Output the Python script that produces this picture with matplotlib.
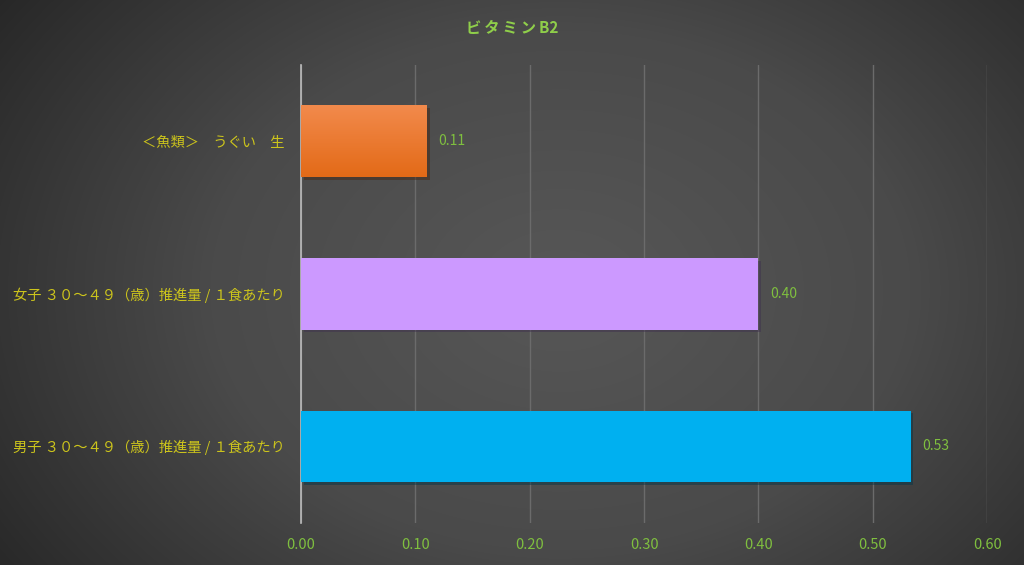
import numpy as np
import matplotlib.pyplot as plt
from matplotlib import patheffects
from matplotlib.colors import LinearSegmentedColormap

plt.rcParams['font.family'] = ['Noto Sans CJK JP', 'DejaVu Sans']

# data, bottom to top
categories = ['男子 ３０～４９（歳）推進量 / １食あたり',
              '女子 ３０～４９（歳）推進量 / １食あたり',
              '＜魚類＞　うぐい　生']
values = [0.533, 0.40, 0.11]
bar_colors = ['#00b0f0', '#cc99ff', '#ed7d31']
xticks = [0.0, 0.1, 0.2, 0.3, 0.4, 0.5, 0.6]
title = '\u2009'.join('ビタミン') + '\u2009B2'

label_yellow = '#ccc41c'
green = '#7fbf3f'

fig = plt.figure(figsize=(10.24, 5.65), dpi=100)

# radial dark background
bg = fig.add_axes([0, 0, 1, 1], zorder=-1)
yy, xx = np.mgrid[0:565, 0:1024]
r = np.sqrt(((xx - 560) / 700.0) ** 2 + ((yy - 290) / 520.0) ** 2)
bg_cmap = LinearSegmentedColormap.from_list('bg', ['#575757', '#4a4a4a', '#262626'])
bg.imshow(r, cmap=bg_cmap, vmin=0, vmax=1.0, aspect='auto', interpolation='bilinear')
bg.axis('off')

ax = fig.add_axes([0.294, 0.075, 0.67, 0.81])
ax.set_facecolor('none')

y = np.arange(len(categories))
bars = ax.barh(y, values, height=0.47, color=bar_colors, zorder=3)
for b in bars:
    b.set_path_effects([patheffects.SimplePatchShadow(offset=(2, -2), alpha=0.45),
                        patheffects.Normal()])

# gradient on the orange bar
ob = bars[2]
x0, y0 = ob.get_x(), ob.get_y()
w, h = ob.get_width(), ob.get_height()
grad_cmap = LinearSegmentedColormap.from_list('og', ['#e36a17', '#f28a4c'])
grad = np.linspace(0, 1, 100).reshape(-1, 1)
im = ax.imshow(grad, cmap=grad_cmap, aspect='auto', origin='lower',
               extent=[x0, x0 + w, y0, y0 + h], zorder=4)
im.set_clip_path(ob)

for b, v in zip(bars, values):
    ax.text(v + 0.01, b.get_y() + b.get_height() / 2, '%.2f' % v,
            va='center', ha='left', color=green, fontsize=10)

ax.set_xlim(0, 0.6)
ax.set_ylim(-0.5, 2.5)
ax.set_xticks(xticks)
ax.set_xticklabels(['%.2f' % t for t in xticks], color=green, fontsize=10.5)
ax.set_yticks(y)
ax.set_yticklabels(categories, color=label_yellow, fontsize=10.3)
ax.tick_params(axis='both', length=0)
ax.tick_params(axis='x', pad=11)
ax.tick_params(axis='y', pad=12)
ax.grid(axis='x', color='#6b6b6b', linewidth=1, zorder=0)
for s in ['top', 'right', 'bottom']:
    ax.spines[s].set_visible(False)
ax.spines['left'].set_color('#bdbdbd')
ax.spines['left'].set_linewidth(1.2)

fig.text(0.5, 0.951, title, ha='center', va='center', color='#8fce4a',
         fontsize=11, fontweight='bold')

fig.savefig('out.png', dpi=100)
